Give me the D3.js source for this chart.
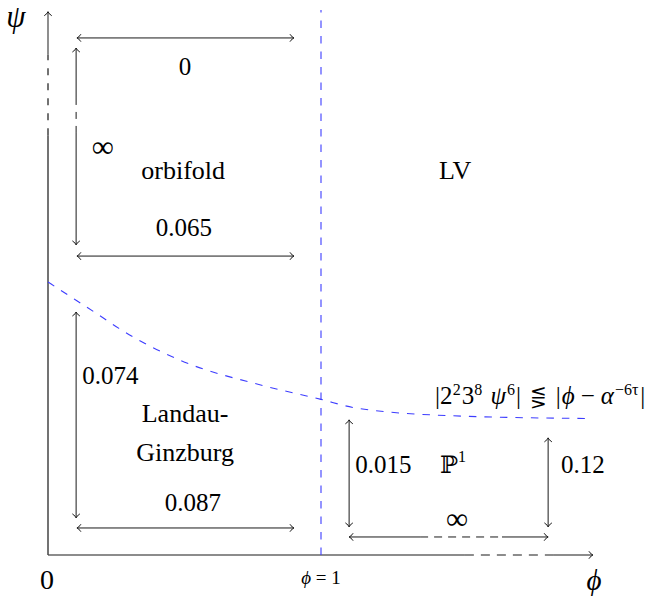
<!DOCTYPE html>
<html>
<head>
<meta charset="utf-8">
<script src="https://cdn.jsdelivr.net/npm/d3@7"></script>
<style>
html,body{margin:0;padding:0;background:#fff;}
</style>
</head>
<body>
<svg id="chart" width="663" height="598" font-family="'Liberation Serif', 'DejaVu Serif', serif"></svg>
<script>
// ---- data (in phi / psi units) ----
const curvePhi = [0, 0.1, 0.2, 0.26, 0.48, 0.79, 1.0, 1.12, 1.48, 1.98];
const curvePsi = [1.0, 0.935, 0.87, 0.83, 0.715, 0.62, 0.57, 0.54, 0.51, 0.5];
const phiBoundary = 1;
const phiMax = 1.996, psiMax = 1.99;

// measurement arrows: [x0, y0, x1, y1, dashFrom, dashTo]
const hArrows = [
  [0.106, 1.894, 0.901, 1.894, null, null],
  [0.106, 1.095, 0.901, 1.095, null, null],
  [0.106, 0.099, 0.901, 0.099, null, null],
  [1.103, 0.066, 1.832, 0.066, 1.363, 1.663]
];
const vArrows = [
  [0.103, 1.136, 0.103, 1.857, 1.546, 1.674],
  [0.103, 0.136, 0.103, 0.890, null, null],
  [1.103, 0.103, 1.103, 0.495, null, null],
  [1.832, 0.103, 1.832, 0.429, null, null]
];
const valueLabels = ["0", "∞", "0.065", "0.074", "0.087", "0.015", "0.12", "∞"];
const valuePos = [[0.502,1.788,"middle"],[0.201,1.495,"middle"],[0.498,1.198,"middle"],[0.125,0.659,"start"],
                  [0.531,0.194,"middle"],[1.125,0.330,"start"],[1.879,0.330,"start"],[1.498,0.132,"middle"]];
const regionLabels = ["orbifold", "LV", "Landau-", "Ginzburg"];
const regionPos = [[0.495,1.410],[1.491,1.410],[0.502,0.520],[0.502,0.377]];
const tickLabels = ["0", "ϕ = 1"];

// ---- scales ----
const svg = d3.select("#chart");
const x = d3.scaleLinear().domain([0, 2]).range([48, 594]);
const y = d3.scaleLinear().domain([0, 2]).range([555, 9]);

const ink = "#1a1a1a";
const blue = "#3d3dff";

function head(px, py, dir) {
  const s = 5.5;
  const a1 = dir + Math.PI - 0.75, a2 = dir + Math.PI + 0.75;
  const p = d3.path();
  p.moveTo(px + s*Math.cos(a1), py + s*Math.sin(a1));
  p.quadraticCurveTo(px - 1.2*Math.cos(dir), py - 1.2*Math.sin(dir), px, py);
  p.quadraticCurveTo(px - 1.2*Math.cos(dir), py - 1.2*Math.sin(dir), px + s*Math.cos(a2), py + s*Math.sin(a2));
  svg.append("path").attr("d", p.toString()).attr("fill","none").attr("stroke", ink).attr("stroke-width",1);
}

function seg(x0,y0,x1,y1,dashed,color,w,dash) {
  svg.append("line").attr("x1",x0).attr("y1",y0).attr("x2",x1).attr("y2",y1)
    .attr("stroke", color||ink).attr("stroke-width", w||1)
    .attr("stroke-dasharray", dashed ? (dash||"7,7") : null);
}

// ---- axes ----
const xd0 = 1.527, xd1 = 1.85;
seg(x(0), y(0), x(xd0), y(0), false, ink, 1.2);
seg(x(xd0), y(0), x(xd1), y(0), true, ink, 1.2, "9,7");
seg(x(xd1), y(0), x(phiMax), y(0), false, ink, 1.2);
head(x(phiMax), y(0), 0);
const yd0 = 1.538, yd1 = 1.832;
seg(x(0), y(0), x(0), y(yd0), false, "#444", 1.5);
seg(x(0), y(yd0), x(0), y(yd1), true, "#444", 1.5, "7,8");
seg(x(0), y(yd1), x(0), y(psiMax), false, "#444", 1.2);
head(x(0), y(psiMax), -Math.PI/2);

// ---- blue boundary lines ----
svg.append("line").attr("x1", x(phiBoundary)).attr("x2", x(phiBoundary))
  .attr("y1", y(0)).attr("y2", y(phiMax))
  .attr("stroke", blue).attr("stroke-width", 1.1).attr("stroke-dasharray", "7.5,8");
const curve = d3.line().x(d => x(d[0])).y(d => y(d[1])).curve(d3.curveMonotoneX);
svg.append("path").datum(d3.zip(curvePhi, curvePsi)).attr("d", curve)
  .attr("fill","none").attr("stroke", blue).attr("stroke-width", 1.1).attr("stroke-dasharray", "7.5,8");

// ---- measurement arrows ----
hArrows.forEach(([a,b,c,_d,d0,d1]) => {
  if (d0 === null) seg(x(a), y(b), x(c), y(b));
  else {
    seg(x(a), y(b), x(d0), y(b));
    seg(x(d0), y(b), x(d1), y(b), true, ink, 1, "8,6");
    seg(x(d1), y(b), x(c), y(b));
  }
  head(x(a), y(b), Math.PI);
  head(x(c), y(b), 0);
});
vArrows.forEach(([a,b,_c,d,d0,d1]) => {
  if (d0 === null) seg(x(a), y(b), x(a), y(d));
  else {
    seg(x(a), y(b), x(a), y(d0));
    seg(x(a), y(d0), x(a), y(d1), true, ink, 1, "7,7");
    seg(x(a), y(d1), x(a), y(d));
  }
  head(x(a), y(b), Math.PI/2);
  head(x(a), y(d), -Math.PI/2);
});

// ---- labels ----
const tfill = "#000";
valueLabels.forEach((t,i) => {
  const [px,py,anc] = valuePos[i];
  svg.append("text").attr("x", x(px)).attr("y", y(py)).attr("text-anchor", anc)
    .attr("dominant-baseline","central").attr("fill", tfill)
    .attr("font-size", t === "∞" ? 31 : 25).text(t);
});
regionLabels.forEach((t,i) => {
  svg.append("text").attr("x", x(regionPos[i][0])).attr("y", y(regionPos[i][1]))
    .attr("text-anchor","middle").attr("dominant-baseline","central").attr("fill", tfill)
    .attr("font-size", 26).text(t);
});
// P^1
const p1 = svg.append("text").attr("x", x(1.436)).attr("y", y(0.330)).attr("dominant-baseline","central")
  .attr("font-size", 25).attr("fill", tfill);
p1.append("tspan").attr("font-family","'DejaVu Serif', 'DejaVu Sans'").attr("font-size",24).text("ℙ");
p1.append("tspan").attr("font-size",16).attr("dy",-9).text("1");

// formula
const f = svg.append("text").attr("x", x(1.418)).attr("y", y(0.553)).attr("font-size", 25)
  .attr("fill", tfill);
const parts = [
  ["|2",0,0,null],["2",-9,0,"sup"],["3",9,1,null],["8",-9,0,"sup"],[" ψ",9,2,"it"],["6",-9,1,"sup"],
  ["|",9,1,null],["⋚",0,9,"sym"],["|",0,9,null],["ϕ",0,1,"it"],["−",0,6,null],["α",0,6,"it"],["−6τ",-9,1,"sup"],["|",9,2,null]
];
parts.forEach(([t,dy,dx,kind]) => {
  const ts = f.append("tspan").attr("dy", dy).attr("dx", dx).text(t);
  if (kind === "sup") ts.attr("font-size", 16);
  if (kind === "it") ts.attr("font-style","italic");
  if (kind === "sym") ts.attr("font-family","'DejaVu Sans'").attr("font-size",20);
});

// axis labels
svg.append("text").attr("x", x(0)-1).attr("y", 579).attr("text-anchor","middle").attr("fill", tfill)
  .attr("dominant-baseline","central").attr("font-size", 28).text(tickLabels[0]);
svg.append("text").attr("x", x(phiBoundary)).attr("y", 577).attr("text-anchor","middle").attr("fill", tfill)
  .attr("dominant-baseline","central").attr("font-size", 19)
  .html('<tspan font-style="italic">ϕ</tspan> = 1');
svg.append("text").attr("x", 594).attr("y", 580).attr("text-anchor","middle").attr("fill", tfill)
  .attr("dominant-baseline","central").attr("font-size", 29).attr("font-style","italic").text("ϕ");
svg.append("text").attr("x", 16).attr("y", 16).attr("text-anchor","middle").attr("fill", tfill)
  .attr("dominant-baseline","central").attr("font-size", 31).attr("font-style","italic").text("ψ");
</script>
</body>
</html>
